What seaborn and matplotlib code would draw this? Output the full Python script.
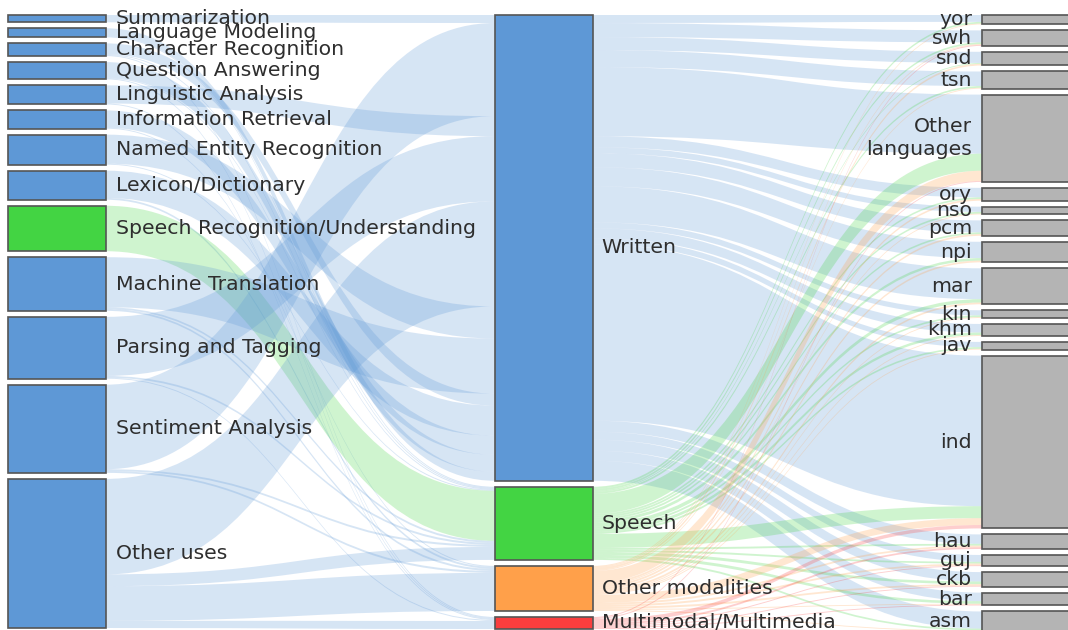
import matplotlib
matplotlib.use("Agg")
import matplotlib.pyplot as plt
from matplotlib.path import Path
from matplotlib.patches import PathPatch, Rectangle
import seaborn as sns

# ---------------- data ----------------
tasks = ["Summarization", "Language Modeling", "Character Recognition", "Question Answering",
         "Linguistic Analysis", "Information Retrieval", "Named Entity Recognition",
         "Lexicon/Dictionary", "Speech Recognition/Understanding", "Machine Translation",
         "Parsing and Tagging", "Sentiment Analysis", "Other uses"]
modalities = ["Written", "Speech", "Other modalities", "Multimodal/Multimedia"]
languages = ["yor", "swh", "snd", "tsn", "Other\nlanguages", "ory", "nso", "pcm", "npi", "mar",
             "kin", "khm", "jav", "ind", "hau", "guj", "ckb", "bar", "asm"]

# task -> modality
task_written = [8, 9, 12, 17, 20, 19, 32, 30, 0, 55, 65, 93, 105]
task_speech = [0, 1, 1, 1, 0, 0, 1, 0, 50, 2, 2, 2, 13]
task_other = [0, 0, 0, 0, 0, 1, 0, 2, 0, 2, 0, 2, 38]
task_multi = [0, 0, 1, 1, 1, 0, 0, 0, 0, 0, 1, 0, 8]

# modality -> language
lang_written = [8, 14, 13, 17, 69, 11, 6, 14, 19, 36, 6, 10, 6, 176, 11, 8, 11, 10, 20]
lang_speech = [2, 2, 1, 2, 20, 2, 2, 2, 3, 4, 2, 3, 2, 14, 2, 2, 3, 3, 2]
lang_other = [1, 1, 2, 1, 12, 2, 1, 2, 2, 2, 1, 1, 1, 8, 2, 2, 2, 1, 1]
lang_multi = [0, 1, 0, 0, 1, 0, 0, 0, 0, 0, 0, 0, 0, 4, 2, 1, 1, 1, 1]

# order in which task links arrive on the "Written" node
written_in_order = ["Summarization", "Sentiment Analysis", "Linguistic Analysis",
                    "Parsing and Tagging", "Other uses", "Named Entity Recognition",
                    "Machine Translation", "Character Recognition", "Lexicon/Dictionary",
                    "Information Retrieval", "Question Answering", "Language Modeling"]

# ---------------- style ----------------
sns.set_theme(style="white")
plt.rcParams['font.family'] = ['DejaVu Sans']

mod_colors = {"Written": "#5e98d6", "Speech": "#43d443",
              "Other modalities": "#ffa04a", "Multimodal/Multimedia": "#fa3e3e"}
lang_color = "#b4b4b4"
edge_color = "#555555"
text_color = "#2e2e2e"
link_alpha = 0.25
gap = 6.0
top = 15.0
col_h = [613.0, 614.0, 617.0]
node_w = 97.5
col_x = [8.0, 495.0, 982.0]
fs = 14.7

task_matrix = [task_written, task_speech, task_other, task_multi]
lang_matrix = [lang_written, lang_speech, lang_other, lang_multi]

task_tot = [sum(task_matrix[m][i] for m in range(4)) for i in range(len(tasks))]
mod_tot = [sum(task_matrix[m]) for m in range(4)]
lang_tot = [sum(lang_matrix[m][j] for m in range(4)) for j in range(len(languages))]


def layout(values, height):
    k = (height - gap * (len(values) - 1)) / sum(values)
    pos, y = [], top
    for v in values:
        pos.append(y)
        y += v * k + gap
    return pos, k


task_y, k0 = layout(task_tot, col_h[0])
mod_y, k1 = layout(mod_tot, col_h[1])
lang_y, k2 = layout(lang_tot, col_h[2])

# task colour: dominant modality
task_col = []
for i in range(len(tasks)):
    vals = [task_matrix[m][i] for m in range(4)]
    task_col.append(mod_colors[modalities[vals.index(max(vals))]])

fig = plt.figure(figsize=(10.68, 6.3), dpi=100)
ax = fig.add_axes([0, 0, 1, 1])
ax.set_xlim(0, 1068)
ax.set_ylim(630, 0)
ax.axis("off")


def band(x0, x1, a0, a1, b0, b1, color):
    xm = (x0 + x1) / 2
    verts = [(x0, a0), (xm, a0), (xm, b0), (x1, b0), (x1, b1), (xm, b1), (xm, a1), (x0, a1), (x0, a0)]
    codes = [Path.MOVETO, Path.CURVE4, Path.CURVE4, Path.CURVE4, Path.LINETO,
             Path.CURVE4, Path.CURVE4, Path.CURVE4, Path.CLOSEPOLY]
    ax.add_patch(PathPatch(Path(verts, codes), facecolor=color, edgecolor="none",
                           alpha=link_alpha, zorder=1))


# task -> modality links
tgt_off = {}
for m, mod in enumerate(modalities):
    order = [tasks.index(t) for t in written_in_order] if mod == "Written" else range(len(tasks))
    y = mod_y[m]
    for i in order:
        tgt_off[(i, m)] = y
        y += task_matrix[m][i] * k1
for i in range(len(tasks)):
    y = task_y[i]
    for m in range(4):
        v = task_matrix[m][i]
        if v <= 0:
            continue
        b = tgt_off[(i, m)]
        band(col_x[0] + node_w, col_x[1], y, y + v * k0, b, b + v * k1, task_col[i])
        y += v * k0

# modality -> language links
for m in range(4):
    y = mod_y[m]
    for j in range(len(languages)):
        v = lang_matrix[m][j]
        if v <= 0:
            continue
        b = lang_y[j] + sum(lang_matrix[q][j] for q in range(m)) * k2
        band(col_x[1] + node_w, col_x[2], y, y + v * k1, b, b + v * k2, mod_colors[modalities[m]])
        y += v * k1

# nodes
for i, t in enumerate(tasks):
    h = task_tot[i] * k0
    ax.add_patch(Rectangle((col_x[0], task_y[i]), node_w, h, facecolor=task_col[i],
                           edgecolor=edge_color, lw=1.2, zorder=3))
    ax.text(col_x[0] + node_w + 10.5, task_y[i] + h / 2, t, ha="left", va="center",
            fontsize=fs, color=text_color, zorder=4)
for m, mod in enumerate(modalities):
    h = mod_tot[m] * k1
    ax.add_patch(Rectangle((col_x[1], mod_y[m]), node_w, h, facecolor=mod_colors[mod],
                           edgecolor=edge_color, lw=1.2, zorder=3))
    ax.text(col_x[1] + node_w + 9, mod_y[m] + h / 2, mod, ha="left", va="center",
            fontsize=fs, color=text_color, zorder=4)
for j, lang in enumerate(languages):
    h = lang_tot[j] * k2
    ax.add_patch(Rectangle((col_x[2], lang_y[j]), node_w, h, facecolor=lang_color,
                           edgecolor=edge_color, lw=1.2, zorder=3))
    ax.text(col_x[2] - 10, lang_y[j] + h / 2, lang, ha="right", va="center",
            fontsize=fs, color=text_color, zorder=4, linespacing=1.25, multialignment="right")

fig.savefig("out.png", dpi=100)
